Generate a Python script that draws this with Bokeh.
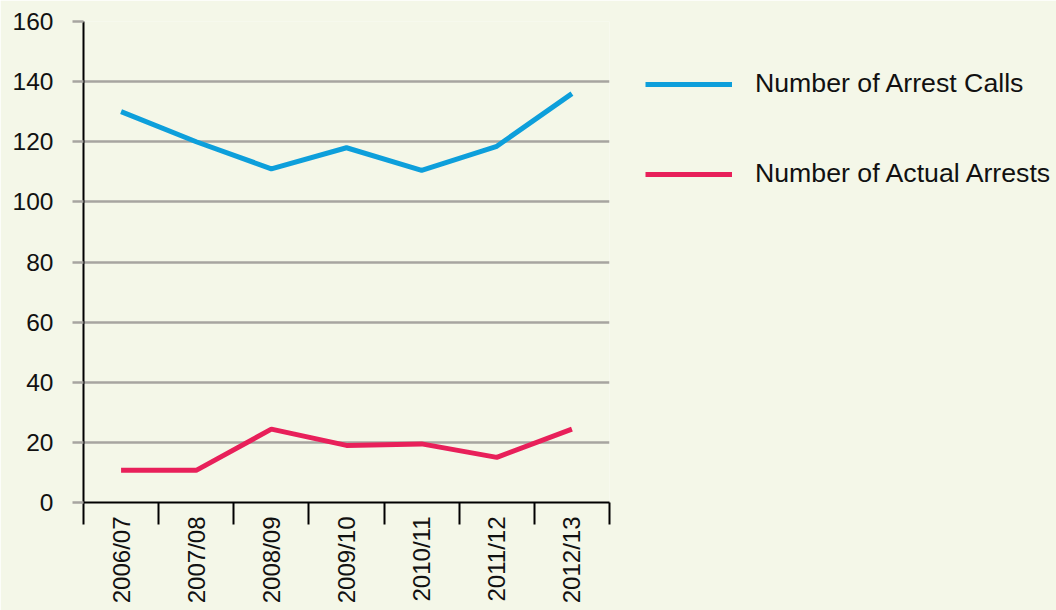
import math
from bokeh.plotting import figure
from bokeh.models import Range1d, FixedTicker, Legend, LegendItem
from bokeh.embed import file_html
from bokeh.resources import INLINE

# ---- data ----
years = ["2006/07", "2007/08", "2008/09", "2009/10", "2010/11", "2011/12", "2012/13"]
arrest_calls = [130, 120, 111, 118, 110.5, 118.5, 136]
actual_arrests = [10.7, 10.7, 24.4, 19, 19.5, 15, 24.4]
y_ticks = [0, 20, 40, 60, 80, 100, 120, 140, 160]
series_names = ["Number of Arrest Calls", "Number of Actual Arrests"]

BG = "#f4f7e8"
GRID = "#a7a5a0"
BLUE = "#0d9fdb"
RED = "#e8205a"
FONT = "Liberation Sans"

# category slot centres (categorical positions: one unit per year)
x_pos = [i + 0.5 for i in range(len(years))]

p = figure(frame_width=526, frame_height=481,
           x_range=Range1d(0, len(years)),
           y_range=Range1d(0, 160),
           output_backend="svg", toolbar_location=None,
           min_border_left=83, min_border_right=0,
           min_border_top=21, min_border_bottom=108,
           background_fill_color=BG, border_fill_color=BG,
           outline_line_color=None)

# y axis
yax = p.yaxis[0]
yax.ticker = FixedTicker(ticks=y_ticks)
yax.axis_line_color = "black"
yax.axis_line_width = 2
yax.major_tick_line_color = GRID
yax.major_tick_line_width = 2.5
yax.major_tick_out = 11
yax.major_tick_in = 0
yax.minor_tick_line_color = None
yax.major_label_text_font_size = "24.5px"
yax.major_label_text_font = FONT
yax.major_label_text_color = "#111111"
yax.major_label_standoff = 19

p.ygrid.grid_line_color = GRID
p.ygrid.grid_line_width = 2.5
p.ygrid.ticker = FixedTicker(ticks=y_ticks)
p.xgrid.visible = False

# x axis with boundary ticks and centred labels
xax = p.xaxis[0]
xax.ticker = FixedTicker(ticks=x_pos, minor_ticks=list(range(len(years) + 1)))
xax.major_label_overrides = {x: y for x, y in zip(x_pos, years)}
xax.major_tick_line_color = None
xax.major_tick_out = 0
xax.major_tick_in = 0
xax.minor_tick_out = 22
xax.minor_tick_in = 0
xax.minor_tick_line_color = "black"
xax.minor_tick_line_width = 2
xax.axis_line_color = "black"
xax.axis_line_width = 2
xax.major_label_orientation = math.pi / 2
xax.major_label_standoff = -8
xax.major_label_text_font_size = "24px"
xax.major_label_text_font = FONT
xax.major_label_text_color = "#111111"

r1 = p.line(x=x_pos, y=arrest_calls, line_color=BLUE, line_width=5)
r2 = p.line(x=x_pos, y=actual_arrests, line_color=RED, line_width=5)

legend = Legend(
    items=[LegendItem(label=series_names[0], renderers=[r1]),
           LegendItem(label=series_names[1], renderers=[r2])],
    location=(36, 313),
    glyph_width=87, glyph_height=30, label_height=30,
    spacing=59, label_standoff=23, padding=0, margin=0,
    border_line_color=None, background_fill_alpha=0,
    label_text_font_size="26.7px", label_text_font=FONT,
    label_text_color="#111111",
)
p.add_layout(legend, "right")

open("out.html", "w").write(file_html(p, INLINE))
